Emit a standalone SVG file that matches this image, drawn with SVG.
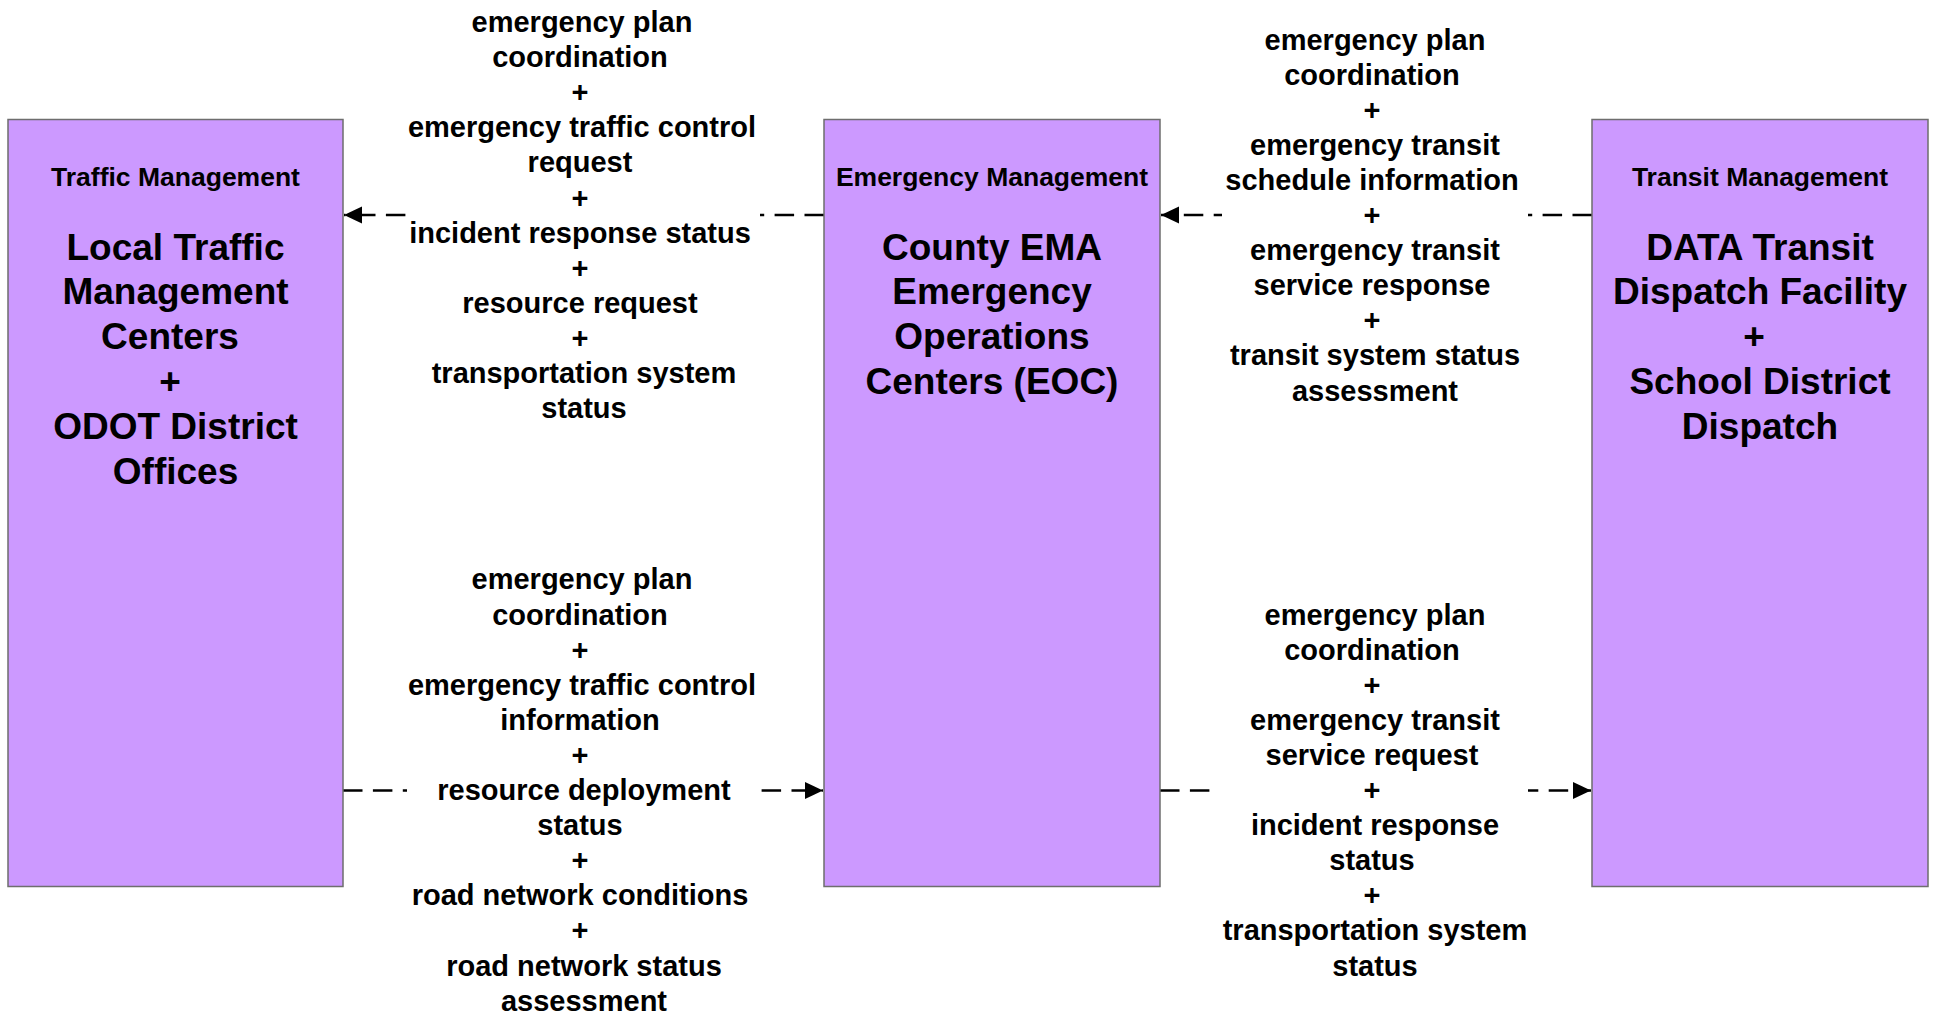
<svg xmlns="http://www.w3.org/2000/svg" width="1937" height="1015" viewBox="0 0 1937 1015">
<defs>
<style>
.box{fill:#CC99FF;stroke:#6E6E6E;stroke-width:1.5}
text{font-family:"Liberation Sans",Arial,Helvetica,sans-serif;font-weight:bold;fill:#000;text-anchor:middle}
.hdr{font-size:26.5px}
.big{font-size:37px}
.lbl{font-size:29px}
.bg{fill:#FFFFFF}
.flow{fill:none;stroke:#000;stroke-width:2.6;stroke-dasharray:19.5 10.4}
</style>
<marker id="arrow" markerUnits="userSpaceOnUse" markerWidth="20" markerHeight="18" refX="18" refY="8.5" orient="auto">
<path d="M0,0 L18,8.5 L0,17 Z" fill="#000"/>
</marker>
</defs>
<rect width="1937" height="1015" fill="#FFFFFF"/>

<g id="connectors">
<line class="flow" x1="824" y1="215" x2="344" y2="215" marker-end="url(#arrow)"/>
<line class="flow" x1="1592" y1="215" x2="1161" y2="215" marker-end="url(#arrow)"/>
<line class="flow" x1="343" y1="790.5" x2="823" y2="790.5" marker-end="url(#arrow)"/>
<line class="flow" x1="1160" y1="790.5" x2="1591" y2="790.5" marker-end="url(#arrow)"/>
</g>

<g id="node-traffic">
<rect class="box" x="8" y="119.5" width="335" height="767"/>
<text class="hdr" x="175.5" y="186">Traffic Management</text>
<text class="big" x="175.5" y="259.5">Local Traffic</text>
<text class="big" x="175.5" y="304.3">Management</text>
<text class="big" x="170" y="349.1">Centers</text>
<text class="big" x="170" y="393.9">+</text>
<text class="big" x="175.5" y="438.7">ODOT District</text>
<text class="big" x="175.5" y="483.5">Offices</text>
</g>

<g id="node-emergency">
<rect class="box" x="824" y="119.5" width="336" height="767"/>
<text class="hdr" x="992" y="186">Emergency Management</text>
<text class="big" x="992" y="259.5">County EMA</text>
<text class="big" x="992" y="304.3">Emergency</text>
<text class="big" x="992" y="349.1">Operations</text>
<text class="big" x="992" y="393.9">Centers (EOC)</text>
</g>

<g id="node-transit">
<rect class="box" x="1592" y="119.5" width="336" height="767"/>
<text class="hdr" x="1760" y="186">Transit Management</text>
<text class="big" x="1760" y="259.5">DATA Transit</text>
<text class="big" x="1760" y="304.3">Dispatch Facility</text>
<text class="big" x="1754" y="349.1">+</text>
<text class="big" x="1760" y="393.9">School District</text>
<text class="big" x="1760" y="438.7">Dispatch</text>
</g>

<g id="label-ema-to-traffic">
<rect class="bg" x="407" y="8" width="353" height="420"/>
<text class="lbl" x="582" y="32">emergency plan</text>
<text class="lbl" x="580" y="67.1">coordination</text>
<text class="lbl" x="580" y="102.2">+</text>
<text class="lbl" x="582" y="137.3">emergency traffic control</text>
<text class="lbl" x="580" y="172.4">request</text>
<text class="lbl" x="580" y="207.5">+</text>
<text class="lbl" x="580" y="242.6">incident response status</text>
<text class="lbl" x="580" y="277.7">+</text>
<text class="lbl" x="580" y="312.8">resource request</text>
<text class="lbl" x="580" y="347.9">+</text>
<text class="lbl" x="584" y="383">transportation system</text>
<text class="lbl" x="584" y="418.1">status</text>
</g>

<g id="label-traffic-to-ema">
<rect class="bg" x="407" y="565" width="353" height="450"/>
<text class="lbl" x="582" y="589.4">emergency plan</text>
<text class="lbl" x="580" y="624.5">coordination</text>
<text class="lbl" x="580" y="659.6">+</text>
<text class="lbl" x="582" y="694.7">emergency traffic control</text>
<text class="lbl" x="580" y="729.8">information</text>
<text class="lbl" x="580" y="764.9">+</text>
<text class="lbl" x="584" y="800">resource deployment</text>
<text class="lbl" x="580" y="835.1">status</text>
<text class="lbl" x="580" y="870.2">+</text>
<text class="lbl" x="580" y="905.3">road network conditions</text>
<text class="lbl" x="580" y="940.4">+</text>
<text class="lbl" x="584" y="975.5">road network status</text>
<text class="lbl" x="584" y="1010.6">assessment</text>
</g>

<g id="label-transit-to-ema">
<rect class="bg" x="1222" y="25" width="306" height="385"/>
<text class="lbl" x="1375" y="49.5">emergency plan</text>
<text class="lbl" x="1372" y="84.6">coordination</text>
<text class="lbl" x="1372" y="119.7">+</text>
<text class="lbl" x="1375" y="154.8">emergency transit</text>
<text class="lbl" x="1372" y="189.9">schedule information</text>
<text class="lbl" x="1372" y="225">+</text>
<text class="lbl" x="1375" y="260.1">emergency transit</text>
<text class="lbl" x="1372" y="295.2">service response</text>
<text class="lbl" x="1372" y="330.3">+</text>
<text class="lbl" x="1375" y="365.4">transit system status</text>
<text class="lbl" x="1375" y="400.5">assessment</text>
</g>

<g id="label-ema-to-transit">
<rect class="bg" x="1214" y="600" width="314" height="385"/>
<text class="lbl" x="1375" y="624.5">emergency plan</text>
<text class="lbl" x="1372" y="659.6">coordination</text>
<text class="lbl" x="1372" y="694.7">+</text>
<text class="lbl" x="1375" y="729.8">emergency transit</text>
<text class="lbl" x="1372" y="764.9">service request</text>
<text class="lbl" x="1372" y="800">+</text>
<text class="lbl" x="1375" y="835.1">incident response</text>
<text class="lbl" x="1372" y="870.2">status</text>
<text class="lbl" x="1372" y="905.3">+</text>
<text class="lbl" x="1375" y="940.4">transportation system</text>
<text class="lbl" x="1375" y="975.5">status</text>
</g>
</svg>
